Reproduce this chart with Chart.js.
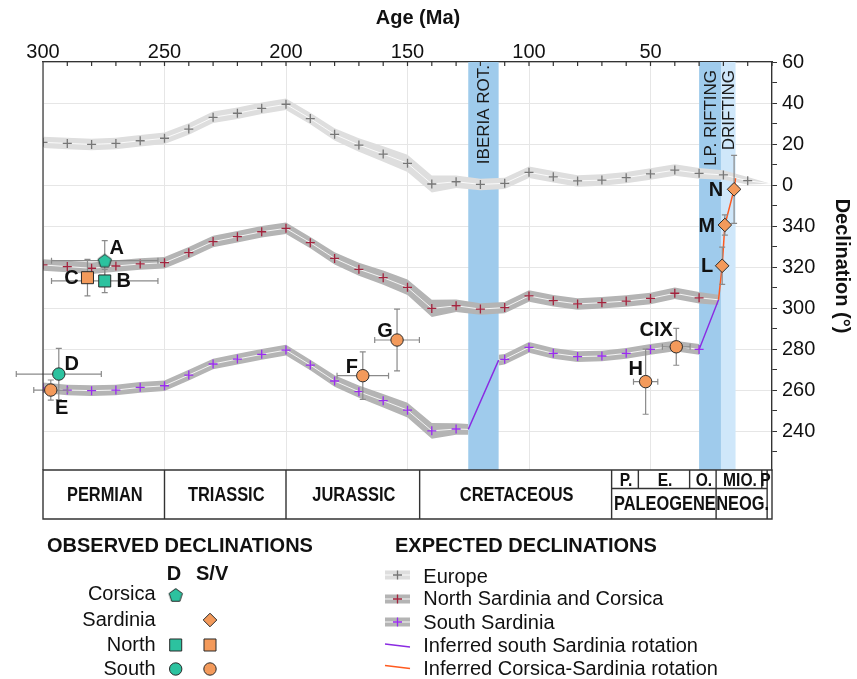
<!DOCTYPE html>
<html>
<head>
<meta charset="utf-8">
<script src="https://cdn.jsdelivr.net/npm/chart.js@4.4.1/dist/chart.umd.min.js"></script>
<style>
  body { margin: 0; background: #fff; font-family: "Liberation Sans", Arial, sans-serif; color: #111; }
  #wrap { position: relative; width: 857px; height: 679px; }
  #c { position: absolute; left: 0; top: 0; }
  .t { position: absolute; white-space: nowrap; font-size: 20px; line-height: 20px; height: 20px; }
  .b { font-weight: bold; }
</style>
</head>
<body>
<div id="wrap">
  <canvas id="c" width="857" height="679"></canvas>
  <div id="legend"></div>
</div>
<script>
// expected declinations (deg), ages in Ma
const europeAge = [300, 290, 280, 270, 260, 250, 240, 230, 220, 210, 200, 190, 180, 170, 160, 150, 140, 130, 120, 110, 100, 90, 80, 70, 60, 50, 40, 30, 20, 10, 0.5];
const europeDec = [20.8, 20.3, 19.8, 20.3, 21.6, 22.8, 27.3, 33.0, 35.0, 37.4, 39.4, 32.4, 24.7, 19.5, 15.1, 10.6, 0.5, 1.6, 0.3, 0.8, 6.2, 4.0, 2.0, 2.4, 3.6, 5.4, 7.3, 5.7, 4.9, 2.1, 0.6];
const europeA95 = [2.8, 2.8, 2.8, 2.8, 2.8, 2.8, 2.8, 2.8, 2.8, 2.8, 2.8, 2.8, 3, 3.3, 3.8, 4.2, 4.2, 3, 2.8, 2.8, 2.8, 2.8, 2.8, 2.8, 2.8, 2.8, 2.8, 2.6, 2.3, 1.8, 0];

const northAge = [300, 290, 280, 270, 260, 250, 240, 230, 220, 210, 200, 190, 180, 170, 160, 150, 140, 130, 120, 110, 100, 90, 80, 70, 60, 50, 40, 30, 22];
const northDec = [321.0, 320.2, 319.4, 320.5, 321.5, 322.1, 327.0, 332.4, 334.8, 337.2, 338.9, 331.9, 324.2, 318.9, 314.8, 310.1, 299.8, 301.1, 299.5, 300.2, 305.9, 303.6, 302.0, 302.6, 303.4, 304.7, 307.2, 305.0, 304.0];
const northA95 = [2.8, 2.8, 2.8, 2.8, 2.8, 2.8, 2.8, 2.8, 2.8, 2.8, 2.8, 2.8, 3, 3.2, 3.5, 3.8, 4.2, 3, 2.8, 2.8, 2.8, 2.8, 2.8, 2.8, 2.8, 2.8, 2.8, 2.8, 2.5];

const southOldAge = [300, 290, 280, 270, 260, 250, 240, 230, 220, 210, 200, 190, 180, 170, 160, 150, 140, 130, 125];
const southOldDec = [261.1, 260.0, 259.7, 260.0, 261.3, 262.1, 267.3, 272.7, 275.1, 277.4, 279.5, 272.2, 264.4, 259.2, 254.8, 250.2, 240.1, 241.0, 240.8];
const southOldA95 = [2.6, 2.6, 2.6, 2.6, 2.6, 2.6, 2.6, 2.6, 2.6, 2.6, 2.6, 2.6, 2.8, 3, 3.3, 3.6, 3.8, 2.8, 2.6];
const southYoungAge = [112.5, 110, 100, 90, 80, 70, 60, 50, 40, 30];
const southYoungDec = [274.6, 275.0, 280.8, 277.9, 276.3, 276.6, 277.9, 279.8, 281.5, 279.8];
const southYoungA95 = [2.6, 2.6, 2.6, 2.6, 2.6, 2.6, 2.6, 2.6, 2.6, 2.6];

// inferred rotations
const southRotAge = [125, 112.5, null, 30, 22];
const southRotDec = [240.8, 274.6, null, 279.8, 304.0];
const csRotAge = [22, 20.5, 19.4, 15.6, 15];
const csRotDec = [304.0, 320.6, 340.5, 357.9, 3.3];

// observed declinations
const obsLabel = ['A', 'B', 'C', 'D', 'E', 'F', 'G', 'H', 'CIX', 'L', 'M', 'N'];
const obsAge = [274.6, 274.6, 281.7, 293.5, 296.8, 168.4, 154.3, 52.0, 39.4, 20.5, 19.4, 15.6];
const obsAgeErr = [21.9, 21.9, 0, 17.5, 7, 10.6, 9.2, 5, 5.7, 0, 0, 0];
const obsDec = [323.1, 313.2, 314.8, 267.8, 260.0, 267.0, 284.4, 264.1, 281.1, 320.6, 340.5, 357.9];
const obsDecErr = [9.8, 5.7, 8.9, 12.5, 4.9, 11.6, 15.1, 15.9, 9.0, 9.1, 4.9, 16.6];
const obsIsland = ['Corsica', 'North', 'North', 'South', 'South', 'South', 'South', 'South', 'South', 'Sardinia', 'Sardinia', 'Sardinia'];
const obsMethod = ['D', 'D', 'S/V', 'D', 'S/V', 'S/V', 'S/V', 'S/V', 'S/V', 'S/V', 'S/V', 'S/V'];

// tectonic events and time scale
const eventName = ['IBERIA ROT.', 'LP. RIFTING', 'DRIFTING'];
const eventStart = [125, 30, 21];
const eventEnd = [112.5, 21, 15];
const periodName = ['PERMIAN', 'TRIASSIC', 'JURASSIC', 'CRETACEOUS', 'PALEOGENE', 'NEOG.'];
const periodBounds = [300, 250, 200, 145, 66, 23, 2];
const epochName = ['P.', 'E.', 'O.', 'MIO.', 'P'];
const epochBounds = [66, 55, 33.9, 23, 4.2, 2];

const xTickLabels = [300, 250, 200, 150, 100, 50];
const yTickLabels = [60, 40, 20, 0, 340, 320, 300, 280, 260, 240];

const islands = ['Corsica', 'Sardinia', 'North', 'South'];
const methods = ['D', 'S/V'];
const expectedNames = ['Europe', 'North Sardinia and Corsica', 'South Sardinia', 'Inferred south Sardinia rotation', 'Inferred Corsica-Sardinia rotation'];

const C = {
  teal: '#2cc29f', orange: '#f39a5b', edge: '#2a2a2a',
  euroBand: '#dedede', band: '#b4b4b4',
  euroCross: '#767676', northCross: '#a3233d', southCross: '#9a2cf0',
  southLine: '#8a2be2', csLine: '#ff5a1f',
  blue: '#9fcbec', lightBlue: '#cfe7fa',
  grid: '#e6e6e6', axis: '#333', err: '#8a8a8a', text: '#111',
};
const FONT = '"Liberation Sans", Arial, sans-serif';

const unwrap = (d) => (d > 180 ? d - 360 : d);

const makePentagon = (fill) => {
  const cv = document.createElement('canvas');
  cv.width = 18; cv.height = 18;
  const g = cv.getContext('2d');
  g.beginPath();
  for (let k = 0; k < 5; k++) {
    const a = -Math.PI / 2 + k * 2 * Math.PI / 5;
    g.lineTo(9 + 7 * Math.cos(a), 9.6 + 7 * Math.sin(a));
  }
  g.closePath();
  g.fillStyle = fill; g.fill();
  g.strokeStyle = C.edge; g.lineWidth = 1; g.stroke();
  return cv;
};

const markerStyle = {
  Corsica: { D: makePentagon(C.teal), 'S/V': makePentagon(C.orange) },
  Sardinia: 'rectRot', North: 'rect', South: 'circle',
};
const markerRadius = { Corsica: 7, Sardinia: 6.8, North: 8.5, South: 6.2 };
const styleOf = (island, method) => (island === 'Corsica' ? markerStyle.Corsica[method] : markerStyle[island]);

const labelOffset = {
  A: [12, -13], B: [19, 0], C: [-16, 0], D: [13, -11], E: [11, 17], F: [-11, -9],
  G: [-12, -10], H: [-10, -13], CIX: [-20, -17], L: [-15, 0], M: [-18, 0], N: [-18, 0],
};
const eventPad = [3, 8, 8];

const bandSets = (age, dec, a95, bandColor, crossColor, label) => {
  const mid = age.map((a, i) => ({ x: a, y: unwrap(dec[i]) }));
  return [
    { label: label + ' upper', data: age.map((a, i) => ({ x: a, y: unwrap(dec[i]) + a95[i] })),
      borderWidth: 0, pointRadius: 0, fill: '+1', backgroundColor: bandColor, order: 6 },
    { label: label + ' lower', data: age.map((a, i) => ({ x: a, y: unwrap(dec[i]) - a95[i] })),
      borderWidth: 0, pointRadius: 0, fill: false, order: 6 },
    { label: label + ' mid', data: mid, borderColor: 'rgba(255,255,255,0.85)', borderWidth: 1,
      pointRadius: 0, fill: false, order: 5 },
    { label: label, data: mid.filter((p) => p.x % 10 === 0), showLine: false, pointStyle: 'cross',
      pointRadius: 4.5, borderColor: crossColor, borderWidth: 1.3, order: 2 },
  ];
};

const datasets = [
  ...bandSets(europeAge, europeDec, europeA95, C.euroBand, C.euroCross, 'Europe'),
  ...bandSets(northAge, northDec, northA95, C.band, C.northCross, 'North'),
  ...bandSets(southOldAge, southOldDec, southOldA95, C.band, C.southCross, 'South old'),
  ...bandSets(southYoungAge, southYoungDec, southYoungA95, C.band, C.southCross, 'South young'),
  {
    label: 'South rotation',
    data: southRotAge.map((a, i) => ({ x: a === null ? southRotAge[i - 1] : a, y: southRotDec[i] === null ? null : unwrap(southRotDec[i]) })),
    borderColor: C.southLine, borderWidth: 1.4, pointRadius: 0, spanGaps: false, fill: false, order: 3,
  },
  {
    label: 'Corsica-Sardinia rotation',
    data: csRotAge.map((a, i) => ({ x: a, y: unwrap(csRotDec[i]) })),
    borderColor: C.csLine, borderWidth: 1.5, pointRadius: 0, fill: false, order: 3,
  },
  {
    label: 'Observed',
    data: obsAge.map((a, i) => ({ x: a, y: unwrap(obsDec[i]) })),
    showLine: false, clip: false, order: 0,
    pointStyle: obsIsland.map((s, i) => styleOf(s, obsMethod[i])),
    pointRadius: obsIsland.map((s) => markerRadius[s]),
    backgroundColor: obsMethod.map((m) => (m === 'D' ? C.teal : C.orange)),
    borderColor: C.edge, borderWidth: 1,
  },
];

let hasNarrow = false;
const narrowText = (ctx, text, cx, cy, size) => {
  if (hasNarrow) {
    ctx.font = `bold ${size}px "Liberation Sans Narrow"`;
    ctx.fillText(text, cx, cy);
  } else {
    ctx.save();
    ctx.font = `bold ${size}px ${FONT}`;
    ctx.translate(cx, cy);
    ctx.scale(0.82, 1);
    ctx.fillText(text, 0, 0);
    ctx.restore();
  }
};

const decor = {
  id: 'decor',
  beforeDatasetsDraw(chart) {
    const { ctx, chartArea: a, scales: { x } } = chart;
    ctx.save();
    eventName.forEach((name, i) => {
      const x0 = x.getPixelForValue(eventStart[i]);
      const x1 = x.getPixelForValue(eventEnd[i]);
      ctx.fillStyle = i === 2 ? C.lightBlue : C.blue;
      ctx.fillRect(x0, a.top, x1 - x0, a.bottom - a.top);
    });
    ctx.fillStyle = '#1a1a1a';
    ctx.font = `17px ${FONT}`;
    ctx.textAlign = 'right';
    ctx.textBaseline = 'middle';
    eventName.forEach((name, i) => {
      const cx = (x.getPixelForValue(eventStart[i]) + x.getPixelForValue(eventEnd[i])) / 2 + 1;
      ctx.save();
      ctx.translate(cx, a.top + eventPad[i]);
      ctx.rotate(-Math.PI / 2);
      ctx.fillText(name, 0, 0);
      ctx.restore();
    });
    ctx.restore();
  },
  beforeDatasetDraw(chart, args) {
    if (chart.data.datasets[args.index].label !== 'Observed') return;
    const { ctx, scales: { x, y } } = chart;
    ctx.save();
    ctx.strokeStyle = C.err;
    ctx.lineWidth = 1.2;
    obsAge.forEach((age, i) => {
      const cx = x.getPixelForValue(age);
      const cy = y.getPixelForValue(unwrap(obsDec[i]));
      const y0 = y.getPixelForValue(unwrap(obsDec[i]) + obsDecErr[i]);
      const y1 = y.getPixelForValue(unwrap(obsDec[i]) - obsDecErr[i]);
      ctx.beginPath();
      ctx.moveTo(cx, y0); ctx.lineTo(cx, y1);
      ctx.moveTo(cx - 3, y0); ctx.lineTo(cx + 3, y0);
      ctx.moveTo(cx - 3, y1); ctx.lineTo(cx + 3, y1);
      if (obsAgeErr[i] > 0) {
        const x0 = x.getPixelForValue(age + obsAgeErr[i]);
        const x1 = x.getPixelForValue(age - obsAgeErr[i]);
        ctx.moveTo(x0, cy); ctx.lineTo(x1, cy);
        ctx.moveTo(x0, cy - 3); ctx.lineTo(x0, cy + 3);
        ctx.moveTo(x1, cy - 3); ctx.lineTo(x1, cy + 3);
      }
      ctx.stroke();
    });
    ctx.restore();
  },
  afterDatasetsDraw(chart) {
    const { ctx, chartArea: a, scales: { x, y } } = chart;
    ctx.save();

    // observed labels
    ctx.fillStyle = C.text;
    ctx.font = `bold 20px ${FONT}`;
    ctx.textAlign = 'center';
    ctx.textBaseline = 'middle';
    obsLabel.forEach((lab, i) => {
      const [dx, dy] = labelOffset[lab];
      ctx.fillText(lab, x.getPixelForValue(obsAge[i]) + dx, y.getPixelForValue(unwrap(obsDec[i])) + dy + 1);
    });

    // inner ticks on top axis, left frame
    ctx.strokeStyle = C.axis;
    ctx.lineWidth = 1.2;
    ctx.beginPath();
    for (let v = 0; v <= 300; v += 10) {
      const px = x.getPixelForValue(v);
      ctx.moveTo(px, a.top); ctx.lineTo(px, a.top + 4);
    }
    ctx.moveTo(a.left, a.top); ctx.lineTo(a.left, a.bottom);
    ctx.stroke();

    // x title
    ctx.font = `bold 20px ${FONT}`;
    ctx.fillText('Age (Ma)', 418, 18);

    // time scale boxes
    const top = a.bottom, mid = a.bottom + 18.5, bot = a.bottom + 49;
    ctx.lineWidth = 1.4;
    ctx.beginPath();
    ctx.rect(a.left, top, a.right - a.left, bot - top);
    periodBounds.slice(1).forEach((b) => {
      const px = x.getPixelForValue(b);
      ctx.moveTo(px, top); ctx.lineTo(px, bot);
    });
    ctx.moveTo(x.getPixelForValue(epochBounds[0]), mid);
    ctx.lineTo(x.getPixelForValue(epochBounds[epochBounds.length - 1]), mid);
    epochBounds.slice(1, -1).forEach((b) => {
      const px = x.getPixelForValue(b);
      ctx.moveTo(px, top); ctx.lineTo(px, mid);
    });
    ctx.stroke();
    ctx.fillStyle = C.text;
    periodName.forEach((name, i) => {
      const cx = (x.getPixelForValue(periodBounds[i]) + x.getPixelForValue(periodBounds[i + 1])) / 2;
      const twoRows = periodBounds[i] <= epochBounds[0];
      narrowText(ctx, name, cx + 1, twoRows ? (mid + bot) / 2 + 1 : (top + bot) / 2 + 1, 20);
    });
    epochName.forEach((name, i) => {
      const cx = (x.getPixelForValue(epochBounds[i]) + x.getPixelForValue(epochBounds[i + 1])) / 2;
      narrowText(ctx, name, cx + 1, (top + mid) / 2 + 1.5, 19);
    });

    // observed legend symbols
    const colX = [175.7, 210];
    const rowY = [595, 620, 645, 669];
    islands.forEach((isl, r) => {
      methods.forEach((m, c) => {
        if (!obsIsland.some((s, i) => s === isl && obsMethod[i] === m)) return;
        ctx.fillStyle = m === 'D' ? C.teal : C.orange;
        ctx.strokeStyle = C.edge;
        ctx.lineWidth = 1;
        Chart.helpers.drawPoint(ctx, { pointStyle: styleOf(isl, m), radius: markerRadius[isl], borderWidth: 1, rotation: 0 }, colX[c], rowY[r]);
      });
    });

    // expected legend symbols
    const ly = [575, 599, 622, 645.5, 667];
    [[C.euroBand, C.euroCross], [C.band, C.northCross], [C.band, C.southCross]].forEach(([bc, cc], i) => {
      ctx.fillStyle = bc;
      ctx.fillRect(385, ly[i] - 4.5, 25, 9);
      ctx.strokeStyle = 'rgba(255,255,255,0.9)';
      ctx.lineWidth = 1;
      ctx.beginPath(); ctx.moveTo(385, ly[i]); ctx.lineTo(410, ly[i]); ctx.stroke();
      ctx.strokeStyle = cc;
      ctx.lineWidth = 1.3;
      Chart.helpers.drawPoint(ctx, { pointStyle: 'cross', radius: 4.5, borderWidth: 1.3, rotation: 0 }, 397.5, ly[i]);
    });
    [C.southLine, C.csLine].forEach((lc, i) => {
      ctx.strokeStyle = lc;
      ctx.lineWidth = 1.4;
      ctx.beginPath(); ctx.moveTo(385, ly[3 + i] - 1.5); ctx.lineTo(410, ly[3 + i] + 1.5); ctx.stroke();
    });
    ctx.restore();
  },
};

const canvas = document.getElementById('c');
const probe = canvas.getContext('2d');
probe.font = 'bold 20px "Liberation Sans Narrow"';
const wNarrow = probe.measureText('CRETACEOUS').width;
probe.font = `bold 20px ${FONT}`;
hasNarrow = wNarrow < probe.measureText('CRETACEOUS').width * 0.9;

new Chart(canvas, {
  type: 'line',
  data: { datasets },
  options: {
    responsive: false,
    animation: false,
    layout: { padding: { left: 43, right: 0, top: 0, bottom: 209 } },
    elements: { line: { tension: 0 } },
    plugins: { legend: { display: false }, tooltip: { enabled: false } },
    scales: {
      x: {
        type: 'linear',
        position: 'top',
        reverse: true,
        min: 0,
        max: 300,
        afterFit: (s) => { s.height = 62; },
        border: { color: C.axis, width: 1.3 },
        grid: {
          drawTicks: false,
          color: (c) => (c.tick && c.tick.value % 50 === 0 ? C.grid : 'transparent'),
        },
        ticks: {
          stepSize: 10,
          autoSkip: false,
          maxRotation: 0,
          padding: 0,
          color: C.text,
          font: { family: FONT, size: 20, lineHeight: 1 },
          callback: (v) => (xTickLabels.includes(v) ? v : ''),
        },
      },
      y: {
        type: 'linear',
        position: 'right',
        min: -139,
        max: 60,
        afterFit: (s) => { s.width = 85; },
        border: { color: C.axis, width: 1.3 },
        grid: {
          tickLength: 5,
          tickColor: C.axis,
          color: (c) => (c.tick && c.tick.value % 20 === 0 ? C.grid : 'transparent'),
        },
        ticks: {
          stepSize: 10,
          includeBounds: false,
          autoSkip: false,
          padding: 5,
          color: C.text,
          font: { family: FONT, size: 20, lineHeight: 1 },
          callback: (v) => {
            const d = v < 0 ? v + 360 : v;
            return yTickLabels.includes(d) ? d : '';
          },
        },
        title: {
          display: true,
          text: 'Declination (°)',
          color: C.text,
          font: { family: FONT, size: 20, weight: 'bold' },
          padding: { top: 3, bottom: 0 },
        },
      },
    },
  },
  plugins: [decor],
});

// HTML legend text
const legend = document.getElementById('legend');
const addText = (text, left, centerY, bold, right) => {
  const d = document.createElement('div');
  d.className = 't' + (bold ? ' b' : '');
  d.textContent = text;
  d.style.top = (centerY - 10) + 'px';
  if (right) {
    d.style.left = '0px';
    d.style.width = right + 'px';
    d.style.textAlign = 'right';
  } else {
    d.style.left = left + 'px';
  }
  legend.appendChild(d);
};
addText('OBSERVED DECLINATIONS', 47, 544.5, true);
addText('D', 166.7, 573, true);
addText('S/V', 196, 573, true);
const obsRowY = [593.3, 618.5, 644.2, 667.5];
islands.forEach((isl, i) => addText(isl, 0, obsRowY[i], false, 155.7));
addText('EXPECTED DECLINATIONS', 395, 545.3, true);
const expRowY = [575.8, 598.3, 621.7, 645, 668.3];
expectedNames.forEach((n, i) => addText(n, 423.3, expRowY[i], false));
</script>
</body>
</html>
